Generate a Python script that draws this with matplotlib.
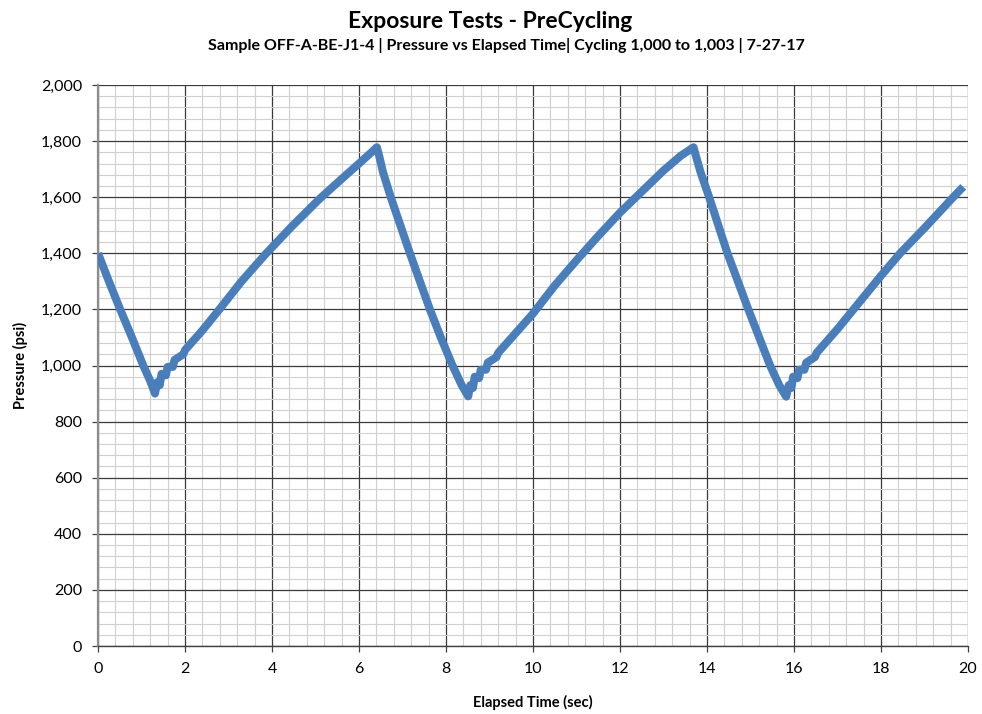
import numpy as np
import matplotlib.pyplot as plt
from matplotlib.ticker import MultipleLocator, FuncFormatter

plt.rcParams['font.family'] = ['Lato', 'DejaVu Sans']

# elapsed time (sec) and pressure (psi), cycles 1,000 to 1,003
elapsed = [
    0.00, 0.25, 0.51, 0.78, 1.04, 1.20, 1.31,
    1.36, 1.42, 1.46, 1.56, 1.60, 1.72, 1.76, 1.96, 2.00, 2.40, 2.79, 3.30,
    3.84, 4.45, 5.10, 5.60, 6.00, 6.30, 6.41,
    6.46, 6.55, 6.73, 6.95, 7.17, 7.40, 7.63, 7.88, 8.15, 8.36, 8.51,
    8.56, 8.62, 8.66, 8.76, 8.80, 8.92, 8.96, 9.16, 9.20, 9.60, 10.00, 10.50,
    11.00, 11.50, 12.00, 12.50, 13.00, 13.40, 13.69,
    13.74, 13.85, 14.05, 14.26, 14.47, 14.71, 14.95, 15.20, 15.45, 15.66, 15.82,
    15.88, 15.94, 15.98, 16.08, 16.12, 16.24, 16.28, 16.48, 16.52, 17.00, 17.50,
    18.00, 18.44, 19.00, 19.66, 19.89,
]
pressure = [
    1400, 1300, 1200, 1100, 1000, 945, 900,
    940, 930, 970, 965, 995, 995, 1020, 1040, 1055, 1125, 1200, 1300,
    1395, 1495, 1595, 1665, 1720, 1762, 1778,
    1750, 1690, 1600, 1500, 1400, 1300, 1200, 1100, 1000, 930, 890,
    930, 920, 960, 955, 985, 985, 1010, 1030, 1045, 1115, 1185, 1285,
    1375, 1462, 1545, 1620, 1695, 1748, 1778,
    1750, 1690, 1600, 1500, 1400, 1300, 1200, 1100, 1000, 930, 889,
    930, 920, 960, 955, 985, 985, 1010, 1030, 1045, 1130, 1225,
    1320, 1400, 1490, 1600, 1637,
]

fig = plt.figure(figsize=(9.82, 7.14), dpi=100)
ax = fig.add_axes([98 / 982, 1 - 646 / 714, 870 / 982, 561 / 714])

ax.plot(elapsed, pressure, color='#4A7EBB', lw=5.8, solid_capstyle='butt',
        solid_joinstyle='round', zorder=3)

ax.set_xlim(0, 20)
ax.set_ylim(0, 2000)
ax.xaxis.set_major_locator(MultipleLocator(2))
ax.xaxis.set_minor_locator(MultipleLocator(0.4))
ax.yaxis.set_major_locator(MultipleLocator(200))
ax.yaxis.set_minor_locator(MultipleLocator(40))
ax.yaxis.set_major_formatter(FuncFormatter(lambda v, _: f'{v:,.0f}'))

ax.grid(which='minor', color='#d0d0d0', lw=0.8, zorder=0)
ax.grid(which='major', color='#3a3a3a', lw=0.9, zorder=1)
ax.set_axisbelow(True)

for side in ('top', 'right'):
    ax.spines[side].set_visible(False)
ax.spines['left'].set_color('#8c8c8c')
ax.spines['left'].set_linewidth(1.6)
ax.spines['bottom'].set_color('#404040')
ax.spines['bottom'].set_linewidth(1.0)

ax.tick_params(which='major', direction='out', length=4.5, width=0.9,
               color='#404040', labelsize=11.5, pad=7, labelcolor='black')
ax.tick_params(which='minor', length=0)

ax.set_ylabel('Pressure (psi)', fontsize=10.5, fontweight='bold', labelpad=9)
ax.set_xlabel('Elapsed Time (sec)', fontsize=10.5, fontweight='bold', labelpad=14)

fig.text(0.499, 0.970, 'Exposure Tests - PreCycling', ha='center', va='center',
         fontsize=16.5, fontweight='bold')
fig.text(0.516, 0.936,
         'Sample OFF-A-BE-J1-4 | Pressure vs Elapsed Time| Cycling 1,000 to 1,003 | 7-27-17',
         ha='center', va='center', fontsize=11.5, fontweight='bold')

fig.savefig('out.png', dpi=100)
